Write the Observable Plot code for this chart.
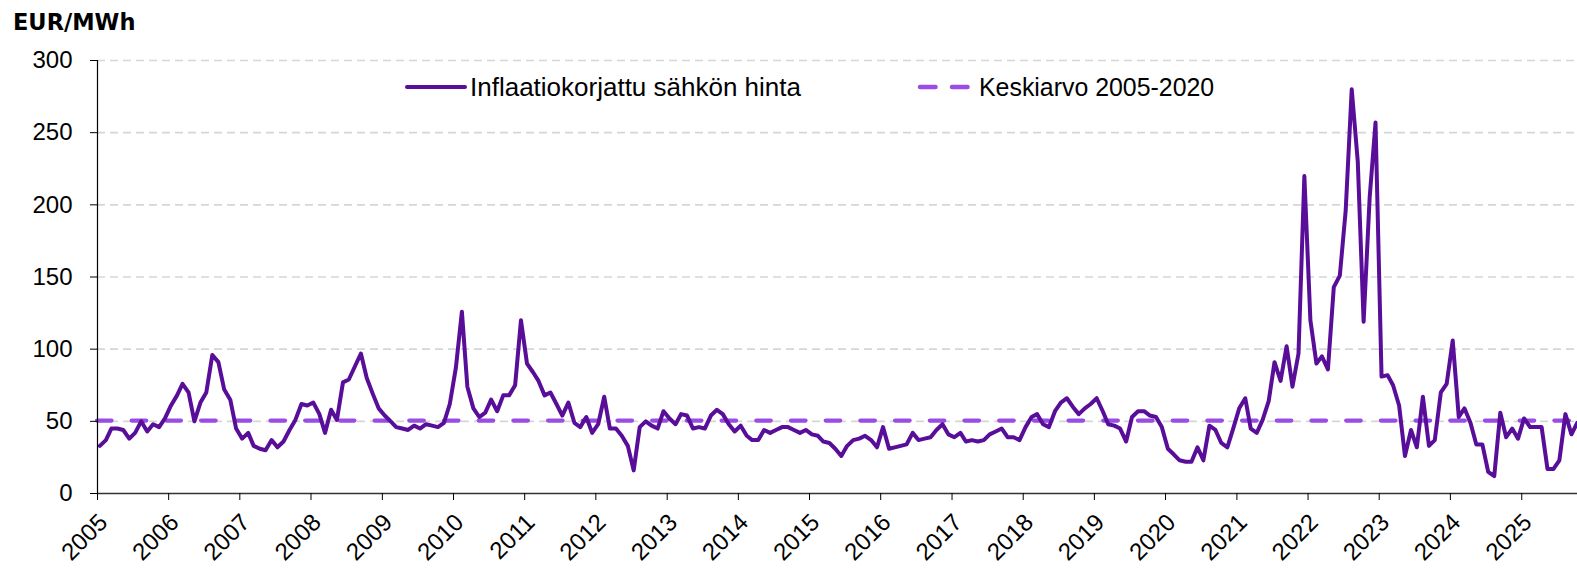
<!DOCTYPE html>
<html><head><meta charset="utf-8">
<script src="https://cdn.jsdelivr.net/npm/d3@7"></script>
<script src="https://cdn.jsdelivr.net/npm/@observablehq/plot@0.6"></script>
<style>
html,body{margin:0;padding:0;background:#fff;}
#wrap{position:relative;width:1577px;height:569px;overflow:hidden;background:#fff;}
#title{position:absolute;left:13px;top:0;height:40px;padding-top:12px;box-sizing:border-box;font:bold 22.5px "DejaVu Sans",sans-serif;line-height:21.5px;color:#000;}
#chart{position:absolute;left:0;top:40px;}
.lg{position:absolute;top:72px;height:30px;line-height:30px;font-family:"Liberation Sans",Arial,sans-serif;font-size:26px;color:#000;white-space:nowrap;transform-origin:0 50%;}
.sw{position:absolute;}
</style></head><body>
<div id="wrap">
  <div id="title">EUR/MWh</div>
  <div id="chart"></div>
  <svg class="sw" id="sw1" style="left:403px;top:80px" width="66" height="14"></svg>
  <div class="lg" id="lg1" style="left:470px"></div>
  <svg class="sw" id="sw2" style="left:914px;top:80px" width="60" height="14"></svg>
  <div class="lg" id="lg2" style="left:979px;transform:scaleX(0.957)"></div>
</div>
<script>
// Monthly inflation-adjusted electricity price, EUR/MWh
const p2005 = [33, 37, 45, 45, 44, 38, 42, 50, 43, 48, 46, 52];
const p2006 = [61, 68, 76, 70, 50, 63, 70, 96, 91, 72, 65, 45];
const p2007 = [38, 42, 33, 31, 30, 37, 32, 36, 44, 51, 62, 61];
const p2008 = [63, 55, 42, 58, 51, 77, 79, 88, 97, 80, 69, 59];
const p2009 = [54, 50, 46, 45, 44, 47, 45, 48, 47, 46, 49, 62];
const p2010 = [87, 126, 74, 59, 53, 56, 65, 57, 68, 68, 75, 120];
const p2011 = [90, 84, 78, 68, 70, 62, 54, 63, 49, 46, 53, 42];
const p2012 = [48, 67, 45, 45, 40, 33, 16, 46, 50, 47, 45, 57];
const p2013 = [52, 48, 55, 54, 45, 46, 45, 54, 58, 55, 48, 43];
const p2014 = [47, 40, 37, 37, 44, 42, 44, 46, 46, 44, 42, 44];
const p2015 = [41, 40, 36, 35, 31, 26, 33, 37, 38, 40, 37, 32];
const p2016 = [46, 31, 32, 33, 34, 42, 37, 38, 39, 44, 48, 41];
const p2017 = [39, 42, 36, 37, 36, 37, 41, 43, 45, 39, 39, 37];
const p2018 = [46, 53, 55, 48, 46, 57, 63, 66, 60, 55, 59, 62];
const p2019 = [66, 57, 48, 47, 45, 36, 53, 57, 57, 54, 53, 46];
const p2020 = [31, 27, 23, 22, 22, 32, 23, 47, 44, 35, 32, 45];
const p2021 = [59, 66, 45, 42, 51, 64, 91, 78, 102, 74, 97, 220];
const p2022 = [120, 90, 95, 86, 143, 151, 196, 280, 230, 119, 205, 257];
const p2023 = [81, 82, 75, 61, 26, 44, 32, 67, 33, 37, 70, 76];
const p2024 = [106, 53, 59, 49, 34, 34, 15, 12, 56, 39, 45, 38];
const p2025 = [52, 46, 46, 46, 17, 17, 23, 55, 41, 49];
const yearSeries = [p2005,p2006,p2007,p2008,p2009,p2010,p2011,p2012,p2013,p2014,p2015,p2016,p2017,p2018,p2019,p2020,p2021,p2022,p2023,p2024,p2025];
const startYear = 2005;
const meanValue = 50.5;           // Keskiarvo 2005-2020
const yTicks = [0, 50, 100, 150, 200, 250, 300];
const tickYears = d3.range(2005, 2026);
const seriesName = "Inflaatiokorjattu sähkön hinta";
const meanName = "Keskiarvo 2005-2020";
const unitLabel = "EUR/MWh";

const lineColor = "#580e98";
const meanColor = "#9a4de4";

const data = yearSeries.flatMap((arr, yi) => arr.map((v, mi) => ({
  date: new Date(Date.UTC(startYear + yi, mi, 13)),
  value: v
})));
const x0 = new Date(Date.UTC(2005, 0, 1));
const x1 = new Date(Date.UTC(2025, 9, 14));
const yearDates = tickYears.map(y => new Date(Date.UTC(y, 0, 1)));

document.getElementById("title").textContent = unitLabel;
document.getElementById("lg1").textContent = seriesName;
document.getElementById("lg2").textContent = meanName;
document.getElementById("sw1").innerHTML = `<line x1="4" x2="62" y1="7" y2="7" stroke="${lineColor}" stroke-width="4" stroke-linecap="round"/>`;
document.getElementById("sw2").innerHTML = `<line x1="6" x2="54" y1="7" y2="7" stroke="${meanColor}" stroke-width="4.5" stroke-dasharray="15.5,16.5" stroke-linecap="round"/>`;

const chart = Plot.plot({
  width: 1577,
  height: 529,
  marginTop: 20,
  marginBottom: 76,
  marginLeft: 97,
  marginRight: 0,
  style: {fontFamily: "Liberation Sans, Arial, sans-serif", fontSize: "24px", color: "#000", background: "#fff", overflow: "visible"},
  x: {type: "utc", domain: [x0, x1]},
  y: {domain: [0, 300]},
  marks: [
    Plot.ruleY(yTicks.filter(d => d > 0), {stroke: "#d6d6d6", strokeWidth: 1.6, strokeDasharray: "8,5"}),
    Plot.ruleY([meanValue], {stroke: meanColor, strokeWidth: 4.3, strokeDasharray: "14.5,20.2", strokeLinecap: "round"}),
    Plot.lineY(data, {x: "date", y: "value", stroke: lineColor, strokeWidth: 4, strokeLinejoin: "round"}),
    Plot.ruleX([x0], {stroke: "#000", strokeWidth: 1.2}),
    Plot.ruleY([0], {stroke: "#333", strokeWidth: 1.6}),
    Plot.axisY({ticks: yTicks, tickSize: 7, tickPadding: 18, label: null, fontSize: 24}),
    Plot.axisX({ticks: yearDates, tickSize: 7, tickFormat: () => "", label: null}),
    Plot.axisX({ticks: yearDates, tickFormat: d3.utcFormat("%Y"), tickRotate: -45, tickSize: 0, tickPadding: 25, dx: 6, label: null, fontSize: 24})
  ]
});
document.getElementById("chart").appendChild(chart);
</script>
</body></html>
